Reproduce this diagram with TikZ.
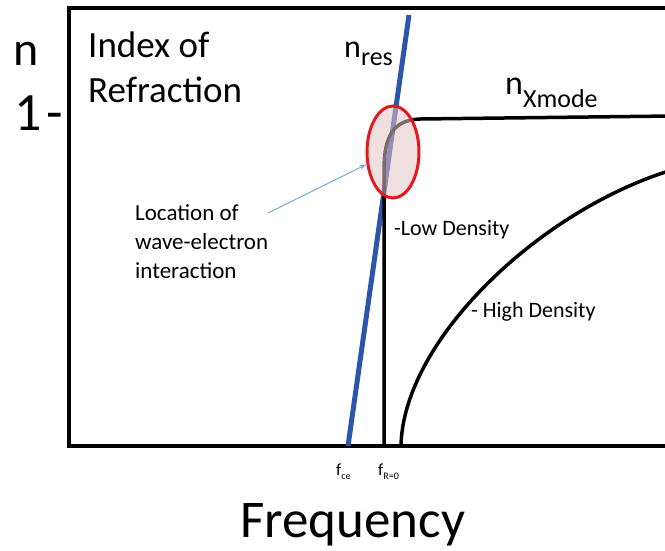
\documentclass[tikz,border=0pt]{standalone}
\usepackage{fontspec}
\setmainfont{Carlito}
\usetikzlibrary{shapes.geometric,arrows.meta}

\definecolor{resblue}{RGB}{45,85,170}
\definecolor{ringred}{RGB}{225,25,35}
\definecolor{ringfill}{RGB}{228,196,196}
\definecolor{pointblue}{RGB}{120,165,220}

\tikzset{
    frame/.style={line width=4pt, black},
    curve/.style={line width=3.5pt, black},
    resline/.style={line width=5pt, resblue},
    ring/.style={ellipse, draw=ringred, line width=3pt, fill=ringfill,
        fill opacity=0.55, minimum width=52pt, minimum height=92pt, inner sep=0pt},
    pointer/.style={-{Stealth[length=7pt,width=5pt]}, line width=1pt, pointblue},
    lbl/.style={inner sep=0pt, anchor=base west},
    block/.style={inner sep=0pt, anchor=north west, align=left}
}

\begin{document}
\begin{tikzpicture}[x=1pt,y=-1pt]
    \useasboundingbox (0,0) rectangle (665,550);
    % Axes (open to the right)
    \draw[frame] (672,8) -- (69,8) -- (69,446) -- (672,446);
    % Resonance line
    \coordinate (resbot) at (348,446);
    \coordinate (restop) at (409,15);
    \draw[resline] (resbot) -- (restop);
    % X-mode, low density
    \draw[curve] (384,446) -- (384,170) .. controls (384,135) and (394,120) .. (420,119) -- (672,116);
    % X-mode, high density
    \draw[curve] (401,446) .. controls (403,340) and (540,210) .. (672,170);
    % Interaction region
    \node[ring] (reson) at (393,152) {};
    % Labels
    \node[lbl] (nlbl) at (13,65) {\fontsize{48}{56}\selectfont n};
    \node[lbl] (onelbl) at (14,130) {\fontsize{54}{60}\selectfont 1\kern5pt-};
    \node[block, font={\fontsize{37}{45}\selectfont}] (title) at (88,32) {Index of\\Refraction};
    \node[lbl] (nres) at (344,57) {\fontsize{32}{38}\selectfont n\raisebox{-8pt}{\fontsize{26}{30}\selectfont res}};
    \node[lbl] (nx) at (505,94) {\fontsize{34}{40}\selectfont n\raisebox{-13pt}{\fontsize{26}{30}\selectfont Xmode}};
    \node[block, font={\fontsize{23}{29}\selectfont}] (loc) at (135,204) {Location of\\wave-electron\\interaction};
    \node[lbl] (low) at (394,235) {\fontsize{22}{26}\selectfont -Low Density};
    \node[lbl] (high) at (471,317) {\fontsize{22}{26}\selectfont - High Density};
    \node[lbl] (fce) at (336,475) {\fontsize{17}{20}\selectfont f\raisebox{-4pt}{\fontsize{10}{12}\selectfont ce}};
    \node[lbl] (fr) at (378,475) {\fontsize{17}{20}\selectfont f\raisebox{-4pt}{\fontsize{10}{12}\selectfont R=0}};
    \node[lbl] (freq) at (240,537) {\fontsize{53}{60}\selectfont Frequency};
    % Pointer to the interaction region
    \coordinate (tail) at (268,213);
    \draw[pointer] (tail) -- (reson.205);
\end{tikzpicture}
\end{document}
